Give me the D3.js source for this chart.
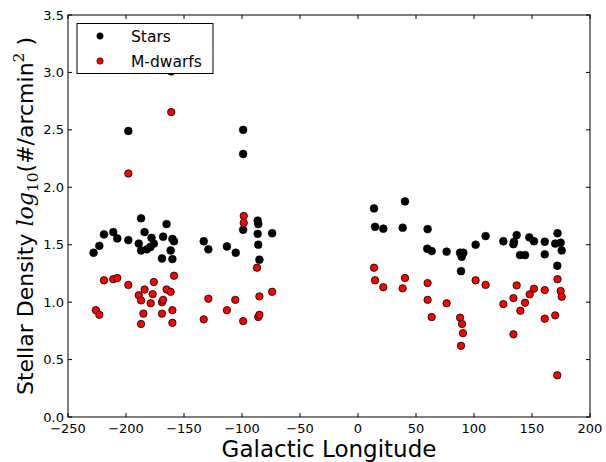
<!DOCTYPE html>
<html>
<head>
<meta charset="utf-8">
<script src="https://cdn.jsdelivr.net/npm/d3@7"></script>
<style>
  html, body { margin: 0; padding: 0; background: #fff; }
  svg { display: block; }
  text { font-family: "DejaVu Sans", sans-serif; }
</style>
</head>
<body>
<svg id="chart" width="606" height="462"></svg>
<script>
// ---- data ----
const starLon = [-228, -223, -219, -211, -207.5, -198, -198, -187, -184, -189, -187, -182, -179, -178, -176, -168, -169, -165, -161, -160, -158.6, -161.5, -160,
  -133, -129, -113, -105.4, -99, -99, -99, -86.5, -86, -86.5, -86, -85, -74,
  13.8, 14.7, 21.8, 38.5, 40.5, 60, 59.7, 63.5, 76.4, 88, 90.8, 89.4, 88.8, 101.4, 110, 125.3, 134, 134.5, 136.8, 139.7, 144, 147.7, 151.7, 161, 161, 172, 170, 174.7, 175.6, 171.8];
const starVal = [1.43, 1.49, 1.59, 1.61, 1.555, 1.54, 2.49, 1.73, 1.61, 1.51, 1.45, 1.46, 1.48, 1.56, 1.51, 1.57, 1.38, 1.68, 3.01, 1.55, 1.53, 1.45, 1.375,
  1.53, 1.46, 1.485, 1.43, 2.50, 2.29, 1.63, 1.71, 1.68, 1.595, 1.50, 1.37, 1.60,
  1.816, 1.656, 1.64, 1.648, 1.877, 1.636, 1.465, 1.445, 1.44, 1.43, 1.43, 1.395, 1.27, 1.50, 1.575, 1.53, 1.505, 1.525, 1.584, 1.41, 1.41, 1.564, 1.53, 1.526, 1.416, 1.60, 1.51, 1.517, 1.45, 1.317];

const mdLon = [-226, -223, -219, -211, -207.5, -198, -198, -189, -187, -187, -185, -184, -178.7, -177, -176, -169, -168, -169, -165, -161.5, -161, -158.6, -160, -160,
  -133, -129, -113, -105.8, -98.5, -98.5, -99, -87, -85, -86, -85, -74,
  13.8, 14.7, 21.8, 38.5, 40.5, 60, 60, 63.5, 76.4, 88, 89.7, 90.5, 88.8, 101.4, 110, 125.3, 134, 134, 136.8, 140, 144, 148, 151.7, 161, 161, 170, 172, 174.7, 175.6, 171.8];
const mdVal = [0.93, 0.89, 1.19, 1.20, 1.21, 1.15, 2.12, 1.06, 1.015, 0.81, 0.90, 1.11, 0.99, 1.07, 1.175, 1.00, 1.02, 0.90, 1.11, 1.09, 2.655, 1.23, 0.93, 0.82,
  0.85, 1.03, 0.93, 1.02, 1.75, 1.69, 0.835, 1.30, 1.05, 0.87, 0.89, 1.09,
  1.30, 1.19, 1.13, 1.12, 1.21, 1.166, 1.02, 0.87, 0.99, 0.865, 0.81, 0.73, 0.62, 1.19, 1.15, 0.983, 1.035, 0.72, 1.146, 0.925, 0.995, 1.068, 1.117, 1.105, 0.856, 0.885, 1.20, 1.097, 1.047, 0.363];

const xTicks = [-250, -200, -150, -100, -50, 0, 50, 100, 150, 200];
const yTicks = [0.0, 0.5, 1.0, 1.5, 2.0, 2.5, 3.0, 3.5];
const seriesNames = ["Stars", "M-dwarfs"];
const seriesColors = ["#000000", "#ff0000"];

// ---- layout ----
const L = 68, R = 590, T = 15, B = 417;
const svg = d3.select("#chart");
const x = d3.scaleLinear().domain([-250, 200]).range([L, R]);
const y = d3.scaleLinear().domain([0, 3.5]).range([B, T]);
const fmtX = d => d < 0 ? "\u2212" + Math.abs(d) : String(d);

// frame
svg.append("rect").attr("x", L).attr("y", T).attr("width", R - L).attr("height", B - T)
  .attr("fill", "none").attr("stroke", "#000").attr("stroke-width", 1);

const tickLen = 4;
const g = svg.append("g");
// x ticks (bottom and top, inward)
xTicks.forEach(t => {
  g.append("line").attr("x1", x(t)).attr("x2", x(t)).attr("y1", B).attr("y2", B - tickLen).attr("stroke", "#000");
  g.append("line").attr("x1", x(t)).attr("x2", x(t)).attr("y1", T).attr("y2", T + tickLen).attr("stroke", "#000");
  g.append("text").attr("x", x(t)).attr("y", B + 16).attr("text-anchor", "middle")
    .attr("font-size", 13).attr("fill", "#000").text(fmtX(t));
});
// y ticks (left and right, inward)
yTicks.forEach(t => {
  g.append("line").attr("x1", L).attr("x2", L + tickLen).attr("y1", y(t)).attr("y2", y(t)).attr("stroke", "#000");
  g.append("line").attr("x1", R).attr("x2", R - tickLen).attr("y1", y(t)).attr("y2", y(t)).attr("stroke", "#000");
  g.append("text").attr("x", L - 4).attr("y", y(t) + 4.5).attr("text-anchor", "end")
    .attr("font-size", 13).attr("fill", "#000").text(t.toFixed(1));
});

// points
const stars = starLon.map((d, i) => ({ lon: d, val: starVal[i] }));
const mds = mdLon.map((d, i) => ({ lon: d, val: mdVal[i] }));
svg.append("g").selectAll("circle").data(stars).join("circle")
  .attr("cx", d => x(d.lon)).attr("cy", d => y(d.val)).attr("r", 3.9)
  .attr("fill", seriesColors[0]).attr("stroke", "#000").attr("stroke-width", 0.6);
svg.append("g").selectAll("circle").data(mds).join("circle")
  .attr("cx", d => x(d.lon)).attr("cy", d => y(d.val)).attr("r", 3.7)
  .attr("fill", seriesColors[1]).attr("stroke", "#000").attr("stroke-width", 0.8);

// legend
const lg = svg.append("g");
lg.append("rect").attr("x", 77).attr("y", 23.5).attr("width", 136).attr("height", 50)
  .attr("fill", "#fff").attr("stroke", "#000").attr("stroke-width", 1);
seriesNames.forEach((n, i) => {
  const cy = 36 + i * 25;
  lg.append("circle").attr("cx", 100).attr("cy", cy).attr("r", 3.2)
    .attr("fill", seriesColors[i]).attr("stroke", "#000").attr("stroke-width", 0.6);
  lg.append("text").attr("x", 131).attr("y", cy + 5.5).attr("font-size", 15.5).attr("fill", "#000").text(n);
});

// axis labels
svg.append("text").attr("x", (L + R) / 2).attr("y", 457).attr("text-anchor", "middle")
  .attr("font-size", 23).attr("fill", "#000").text("Galactic Longitude");

const yl = svg.append("text").attr("transform", `translate(33,${(T + B) / 2}) rotate(-90)`)
  .attr("text-anchor", "middle").attr("font-size", 22).attr("fill", "#000");
yl.append("tspan").text("Stellar Density ");
yl.append("tspan").attr("font-family", "'DejaVu Serif', serif").attr("font-style", "italic").text("log");
yl.append("tspan").attr("font-family", "'DejaVu Serif', serif").attr("font-size", 15.5).attr("dy", 5).text("10");
yl.append("tspan").attr("dy", -5).text("(#/arcmin");
yl.append("tspan").attr("font-family", "'DejaVu Serif', serif").attr("font-size", 15.5).attr("dy", -9).text("2");
yl.append("tspan").attr("dy", 9).text(" )");
</script>
</body>
</html>
